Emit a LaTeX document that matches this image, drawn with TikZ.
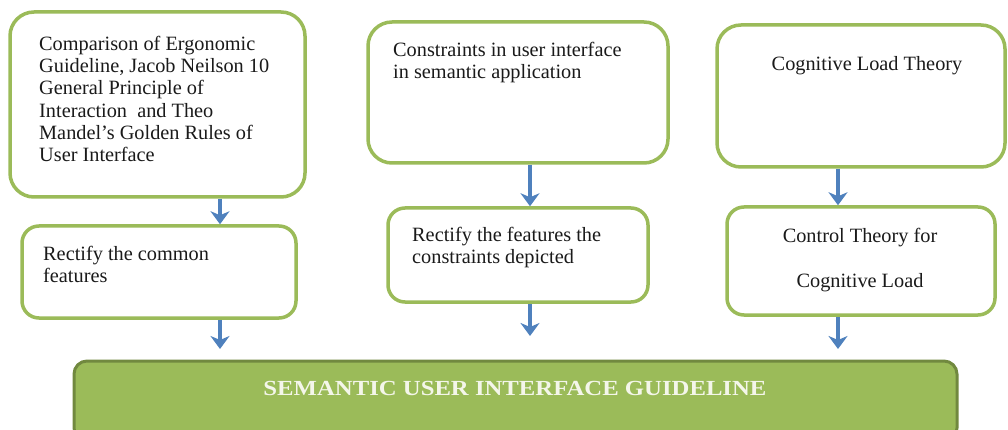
\documentclass[tikz,border=0pt]{standalone}
\usepackage{fontspec}
\usepackage{graphicx}
\setmainfont{Liberation Serif}
\usetikzlibrary{arrows.meta,calc}
\definecolor{gborder}{HTML}{9BBB59}
\definecolor{gdark}{HTML}{71893F}
\definecolor{barrow}{HTML}{4F81BD}
\definecolor{txt}{HTML}{1A1A1A}
\definecolor{bartxt}{HTML}{F4F6EA}
\begin{document}
\begin{tikzpicture}[x=1pt,y=-1pt,
  bigbox/.style={draw=gborder, line width=3.5pt, rounded corners=24pt, fill=white, inner sep=0pt},
  smallbox/.style={draw=gborder, line width=3.5pt, rounded corners=17pt, fill=white, inner sep=0pt},
  lbl/.style={inner sep=0pt, text=txt, align=left, font=\fontsize{20.3}{22.2}\selectfont},
  arr/.style={draw=barrow, line width=4.5pt, -{Stealth[length=13pt,width=19pt,inset=4pt]}},
  bar/.style={draw=gdark, line width=3pt, fill=gborder, rounded corners=13pt, inner sep=0pt}]
\useasboundingbox (0,0) rectangle (1008,430);
\clip (0,0) rectangle (1008,430);
% boxes
\node[bigbox, minimum width=295pt, minimum height=185pt] (b1) at (157.5,104.5) {};
\node[bigbox, minimum width=300pt, minimum height=141pt] (b2) at (518,92.5) {};
\node[bigbox, minimum width=288pt, minimum height=142pt] (b3) at (861,96) {};
\node[smallbox, minimum width=274pt, minimum height=92pt] (b4) at (159,272) {};
\node[smallbox, minimum width=260pt, minimum height=94pt] (b5) at (518,255) {};
\node[smallbox, minimum width=268pt, minimum height=108pt] (b6) at (861,261) {};
\node[bar, minimum width=883pt, minimum height=80pt] (bar) at (515.5,401) {};
% texts
\node[lbl, anchor=north west] (t1) at (39,36) {Comparison of Ergonomic\\Guideline, Jacob Neilson 10\\General Principle of\\Interaction\ \ and Theo\\Mandel’s Golden Rules of\\User Interface};
\node[lbl, anchor=north west] (t2) at (393,42) {Constraints in user interface\\in semantic application};
\node[lbl, anchor=base] (t3) at (867,71) {Cognitive Load Theory};
\node[lbl, anchor=north west] (t4) at (43,246) {Rectify the common\\features};
\node[lbl, anchor=north west] (t5) at (412,227) {Rectify the features the\\constraints depicted};
\node[lbl, anchor=base, align=center] (t6a) at (860,243) {Control Theory for};
\node[lbl, anchor=base, align=center] (t6b) at (860,287) {Cognitive Load};
\node[inner sep=0pt, anchor=base, text=bartxt, font=\fontsize{21.5}{24}\selectfont\bfseries] (tbar) at (515,395) {\scalebox{1.15}[1]{SEMANTIC USER INTERFACE GUIDELINE}};
% arrow end points above the bar
\coordinate (e1) at (220,349);
\coordinate (e2) at (530,336);
\coordinate (e3) at (838,349);
% arrows
\draw[arr] (b1.south -| e1) -- (b4.north -| e1);
\draw[arr] (b2.south -| e2) -- (b5.north -| e2);
\draw[arr] (b3.south -| e3) -- (b6.north -| e3);
\draw[arr] (b4.south -| e1) -- (e1);
\draw[arr] (b5.south -| e2) -- (e2);
\draw[arr] (b6.south -| e3) -- (e3);
\end{tikzpicture}
\end{document}
